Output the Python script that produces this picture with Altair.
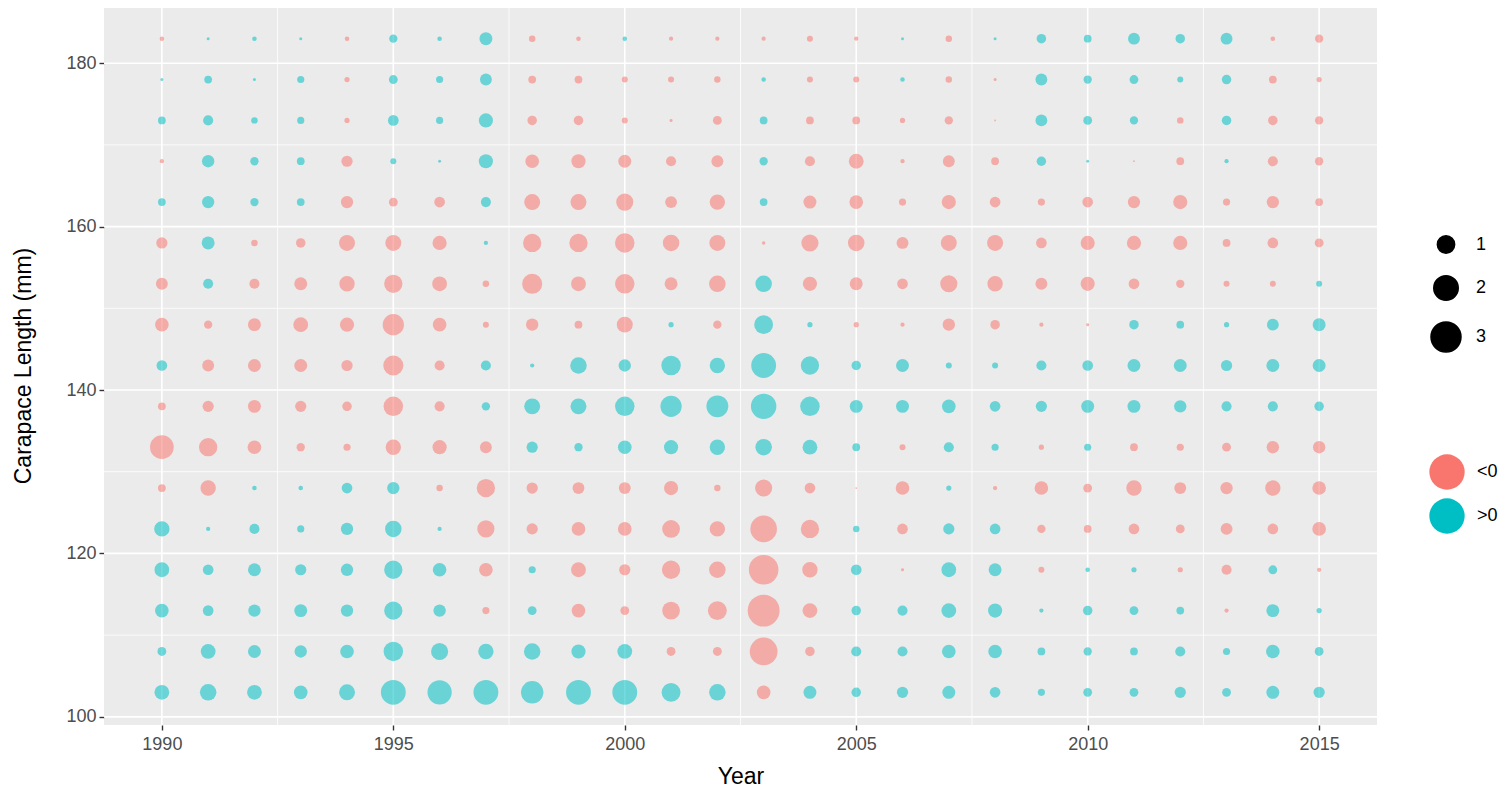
import altair as alt
import pandas as pd

years = list(range(1990, 2016))
lengths = [103, 108, 113, 118, 123, 128, 133, 138, 143, 148, 153, 158, 163, 168, 173, 178, 183]

# signed residuals per length class (negative = "<0", positive = ">0"), years 1990..2015
r103 = [0.73, 0.91, 0.73, 0.62, 0.85, 2.06, 1.96, 2.06, 1.68, 2.06, 2.06, 1.19, 0.91, -0.62, 0.56, 0.30, 0.42, 0.56, 0.38, 0.17, 0.26, 0.26, 0.42, 0.26, 0.56, 0.42]
r108 = [0.26, 0.73, 0.56, 0.51, 0.62, 1.27, 0.98, 0.79, 0.91, 0.67, 0.73, -0.26, -0.26, -2.58, -0.30, 0.34, 0.34, 0.62, 0.62, 0.20, 0.23, 0.20, 0.34, 0.17, 0.62, 0.26]
r113 = [0.62, 0.38, 0.51, 0.56, 0.51, 1.12, 0.51, -0.17, 0.26, -0.62, -0.26, -1.05, -1.19, -3.40, -0.73, 0.30, 0.34, 0.73, 0.67, 0.06, 0.30, 0.26, 0.20, -0.06, 0.56, 0.09]
r118 = [0.73, 0.38, 0.56, 0.42, 0.51, 1.12, 0.62, -0.62, 0.17, -0.73, -0.42, -1.12, -0.91, -2.92, -0.79, 0.38, -0.03, 0.73, 0.56, -0.12, 0.07, 0.09, -0.09, -0.34, 0.26, -0.06]
r123 = [0.79, 0.06, 0.34, 0.17, 0.51, 0.91, 0.06, -0.98, -0.42, -0.62, -0.62, -1.05, -0.79, -2.36, -1.12, 0.14, -0.38, 0.42, 0.38, -0.23, -0.20, -0.38, -0.26, -0.47, -0.38, -0.62]
r128 = [-0.20, -0.79, 0.07, 0.07, 0.38, 0.51, -0.14, -1.12, -0.42, -0.47, -0.47, -0.67, -0.14, -0.98, -0.38, -0.01, -0.62, 0.09, -0.06, -0.62, -0.26, -0.79, -0.47, -0.51, -0.79, -0.62]
r133 = [-1.87, -1.12, -0.62, -0.23, -0.17, -0.79, -0.67, -0.47, 0.42, 0.23, 0.62, 0.67, 0.79, 0.91, 0.73, 0.20, -0.12, 0.34, 0.17, -0.09, 0.17, -0.20, -0.17, -0.26, -0.51, -0.51]
r138 = [-0.20, -0.42, -0.56, -0.42, -0.30, -1.27, -0.34, 0.23, 0.85, 0.85, 1.27, 1.51, 1.60, 2.16, 1.27, 0.56, 0.56, 0.62, 0.38, 0.42, 0.56, 0.56, 0.51, 0.34, 0.34, 0.30]
r143 = [0.38, -0.47, -0.56, -0.56, -0.42, -1.35, -0.34, 0.34, 0.06, 0.91, 0.51, 1.27, 0.79, 2.06, 1.12, 0.30, 0.56, 0.12, 0.12, 0.34, 0.38, 0.56, 0.56, 0.42, 0.56, 0.56]
r148 = [-0.62, -0.23, -0.56, -0.73, -0.67, -1.51, -0.62, -0.12, -0.51, -0.20, -0.85, 0.09, -0.23, 1.19, 0.09, -0.09, -0.06, -0.51, -0.30, -0.06, -0.03, 0.30, 0.20, 0.09, 0.47, 0.56]
r153 = [-0.47, 0.34, -0.34, -0.56, -0.79, -1.12, -0.73, -0.14, -1.35, -0.73, -1.27, -0.56, -0.91, 0.91, -0.67, -0.56, -0.38, -0.98, -0.79, -0.47, -0.67, -0.38, -0.23, -0.12, -0.12, 0.12]
r158 = [-0.42, 0.56, -0.14, -0.30, -0.85, -0.85, -0.67, 0.06, -1.12, -1.12, -1.27, -0.91, -0.85, -0.04, -0.98, -0.91, -0.47, -0.85, -0.85, -0.38, -0.67, -0.67, -0.67, -0.20, -0.38, -0.26]
r163 = [0.20, 0.51, 0.23, 0.20, -0.51, -0.26, -0.38, 0.34, -0.85, -0.85, -0.98, -0.47, -0.79, 0.20, -0.56, -0.62, -0.17, -0.67, -0.38, -0.17, -0.38, -0.51, -0.67, -0.17, -0.51, -0.20]
r168 = [-0.06, 0.51, 0.23, 0.20, -0.42, 0.12, 0.03, 0.67, -0.62, -0.67, -0.56, -0.34, -0.47, 0.23, -0.34, -0.73, -0.06, -0.47, -0.20, 0.30, 0.03, -0.01, -0.20, 0.06, -0.34, -0.23]
r173 = [0.20, 0.34, 0.14, 0.17, -0.09, 0.38, 0.17, 0.67, -0.30, -0.30, -0.12, -0.03, -0.26, 0.20, -0.20, -0.20, -0.09, -0.23, -0.01, 0.47, 0.26, 0.23, -0.14, 0.30, -0.30, -0.23]
r178 = [0.03, 0.20, 0.03, 0.17, -0.09, 0.26, 0.17, 0.47, -0.20, -0.20, -0.12, -0.12, -0.14, 0.07, -0.12, -0.12, 0.07, -0.14, -0.03, 0.47, 0.23, 0.26, 0.12, 0.30, -0.20, -0.09]
r183 = [-0.07, 0.03, 0.07, 0.03, -0.07, 0.23, 0.07, 0.56, -0.14, -0.07, 0.07, -0.06, -0.06, -0.06, -0.12, -0.06, 0.03, -0.14, 0.03, 0.30, 0.20, 0.47, 0.30, 0.47, -0.07, -0.23]

series = [r103, r108, r113, r118, r123, r128, r133, r138, r143, r148, r153, r158, r163, r168, r173, r178, r183]

sign_labels = ["<0", ">0"]
sign_colors = ["#F8766D", "#00BFC4"]
size_breaks = [1, 2, 3]

x_major = [1990, 1995, 2000, 2005, 2010, 2015]
x_minor = [1992.5, 1997.5, 2002.5, 2007.5, 2012.5]
y_major = [100, 120, 140, 160, 180]
y_minor = [110, 130, 150, 170]

records = []
for L, vals in zip(lengths, series):
    for yr, v in zip(years, vals):
        records.append({"Year": yr, "Length": L, "mag": abs(v),
                        "sign": sign_labels[0] if v < 0 else sign_labels[1]})
df = pd.DataFrame(records)

FONT = "Liberation Sans"

x_scale = alt.Scale(domain=[1988.75, 2016.25], nice=False, zero=False)
y_scale = alt.Scale(domain=[99, 187], nice=False, zero=False)
x_axis = alt.Axis(values=x_major, format="d", title="Year", grid=False)
y_axis = alt.Axis(values=y_major, title="Carapace Length (mm)", grid=False)

x_enc = alt.X("Year:Q", scale=x_scale, axis=x_axis)
y_enc = alt.Y("Length:Q", scale=y_scale, axis=y_axis)

gx_major = alt.Chart(pd.DataFrame({"Year": x_major})).mark_rule(color="white", strokeWidth=1.6).encode(x=x_enc)
gx_minor = alt.Chart(pd.DataFrame({"Year": x_minor})).mark_rule(color="white", strokeWidth=0.8).encode(x=x_enc)
gy_major = alt.Chart(pd.DataFrame({"Length": y_major})).mark_rule(color="white", strokeWidth=1.6).encode(y=y_enc)
gy_minor = alt.Chart(pd.DataFrame({"Length": y_minor})).mark_rule(color="white", strokeWidth=0.8).encode(y=y_enc)

points = alt.Chart(df).mark_circle(opacity=0.55, stroke=None).encode(
    x=x_enc,
    y=y_enc,
    size=alt.Size("mag:Q",
                  scale=alt.Scale(domain=[0, 3.4], range=[0, 1018]),
                  legend=alt.Legend(title=None, values=size_breaks, format="d", orient="none",
                                    legendX=1326, legendY=229,
                                    symbolFillColor="black", symbolStrokeColor="black",
                                    symbolOpacity=1, symbolType="circle",
                                    labelFontSize=18, labelColor="black", labelFont=FONT,
                                    labelOffset=14, rowPadding=15)),
    color=alt.Color("sign:N",
                    scale=alt.Scale(domain=sign_labels, range=sign_colors),
                    legend=alt.Legend(title=None, orient="none", legendX=1325, legendY=448,
                                      symbolSize=1250, symbolOpacity=1, symbolType="circle",
                                      symbolStrokeWidth=0,
                                      labelFontSize=18, labelColor="black", labelFont=FONT,
                                      labelOffset=12, rowPadding=8)),
)

chart = alt.layer(gx_minor, gy_minor, gx_major, gy_major, points).properties(
    width=1273, height=719, padding={"left": 4, "top": -3, "right": 0, "bottom": 0}
).configure_view(fill="#EBEBEB", stroke=None).configure_axis(
    domain=False, tickColor="#333333", tickSize=5, tickWidth=1.4,
    labelColor="#4D4D4D", labelFontSize=18, labelFont=FONT,
    titleFont=FONT, titleFontSize=23, titleFontWeight="normal", titleColor="black",
).configure_axisY(labelPadding=3, titlePadding=30).configure_axisX(labelPadding=5, titlePadding=12)

chart.save("out.html", embed_options={"renderer": "svg", "actions": False})
